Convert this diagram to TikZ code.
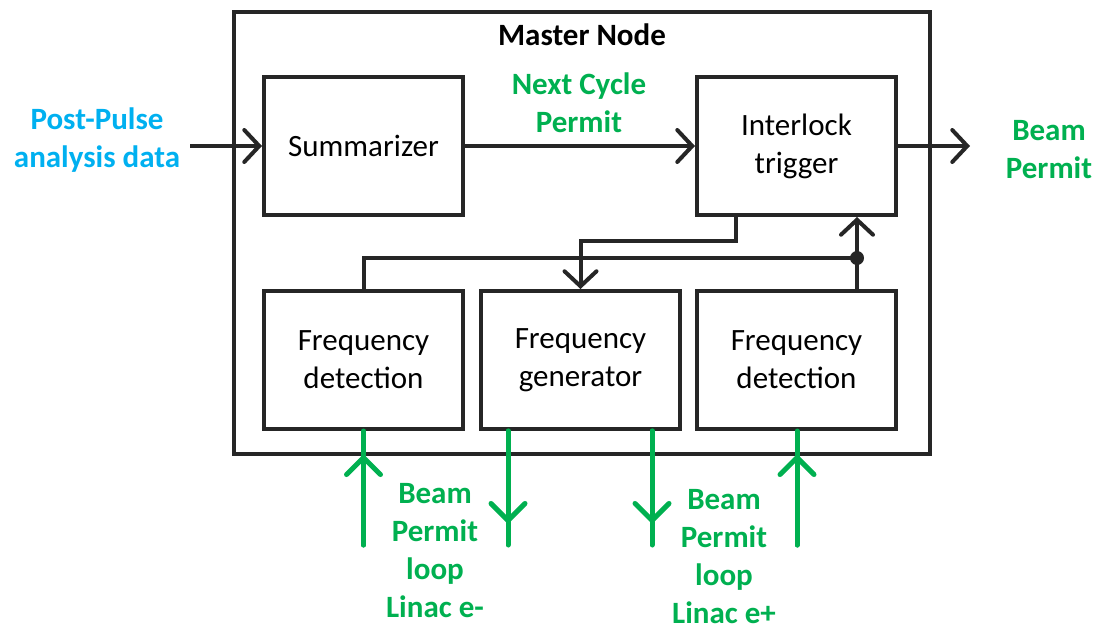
\documentclass[tikz,border=0pt]{standalone}
\usepackage{fontspec}
\setmainfont{Carlito}
\usetikzlibrary{arrows.meta}
\definecolor{offgreen}{HTML}{00B050}
\definecolor{offblue}{HTML}{00B0F0}
\definecolor{lineblack}{HTML}{262626}
\begin{document}
\begin{tikzpicture}[x=1pt,y=-1pt,
  box/.style={draw=lineblack,line width=4pt,minimum width=199pt,minimum height=138pt,inner sep=0pt,align=center,font=\fontsize{31}{38}\selectfont},
  conn/.style={draw=lineblack,line width=4pt},
  barb/.style={-{Straight Barb[length=15pt,width=32pt,line cap=round]}},
  gline/.style={draw=offgreen,line width=5pt,line cap=round},
  gbarb/.style={gline,-{Straight Barb[length=17pt,width=34pt,line cap=round]}},
  glabel/.style={text=offgreen,font=\bfseries\fontsize{31}{38}\selectfont,align=center,inner sep=0pt},
  blabel/.style={text=offblue,font=\bfseries\fontsize{31}{38}\selectfont,align=center,inner sep=0pt}]
\path[use as bounding box] (0,0) rectangle (1103,629);
% master box
\node[draw=lineblack,line width=4pt,minimum width=696pt,minimum height=442pt,inner sep=0pt] (master) at (582,233) {};
\node[font=\bfseries\fontsize{31}{38}\selectfont,inner sep=0pt] (mtitle) at (582,35) {Master Node};
% inner boxes
\node[box] (summ) at (363.5,146) {Summarizer};
\node[box] (trig) at (796.5,146) {Interlock\\trigger};
\node[box] (det1) at (363.5,360) {Frequency\\detection};
\node[box] (gen) at (580.5,360) {Frequency\\generator};
\node[box] (det2) at (796.5,360) {Frequency\\detection};
% labels
\node[blabel] (pp) at (97,140) {Post-Pulse\\analysis data};
\node[glabel] (nc) at (579,103) {Next Cycle\\Permit};
\node[glabel] (bp) at (1049,150) {Beam\\Permit};
\node[glabel] (le) at (435,551) {Beam\\Permit\\loop\\Linac e-};
\node[glabel] (lp) at (724,557) {Beam\\Permit\\loop\\Linac e+};
% coordinates
\coordinate (in) at (190,146);
\coordinate (out) at (970,146);
\coordinate (j) at ([xshift=60.5pt]det2.north |- 0,258);
% black connectors
\draw[conn,barb] (in) -- (summ.west);
\draw[conn,barb] (summ.east) -- (trig.west);
\draw[conn,barb] (trig.east) -- (out);
\draw[conn,barb] ([xshift=-60.5pt]trig.south) -- ++(0,24) -| (gen.north);
\draw[conn] (det1.north) |- (j);
\draw[conn,barb] ([xshift=60.5pt]det2.north) -- ([xshift=60.5pt]trig.south);
\fill[lineblack] (j) circle (7pt);
% green connectors
\coordinate (g1) at ([yshift=-114pt]det1.south);
\coordinate (g2) at ([xshift=-72.5pt,yshift=-114pt]gen.south);
\coordinate (g3) at ([xshift=71.5pt,yshift=-114pt]gen.south);
\coordinate (g4) at ([xshift=0.5pt,yshift=-114pt]det2.south);
\draw[gline] (det1.south) -- (g1);
\draw[gbarb] (g1) -- ([yshift=-23pt]det1.south);
\draw[gline] ([xshift=-72.5pt]gen.south) -- (g2);
\draw[gbarb] ([xshift=-72.5pt]gen.south) -- ([yshift=21pt]g2);
\draw[gline] ([xshift=71.5pt]gen.south) -- (g3);
\draw[gbarb] ([xshift=71.5pt]gen.south) -- ([yshift=21pt]g3);
\draw[gline] ([xshift=0.5pt]det2.south) -- (g4);
\draw[gbarb] (g4) -- ([xshift=0.5pt,yshift=-23pt]det2.south);
\end{tikzpicture}
\end{document}
